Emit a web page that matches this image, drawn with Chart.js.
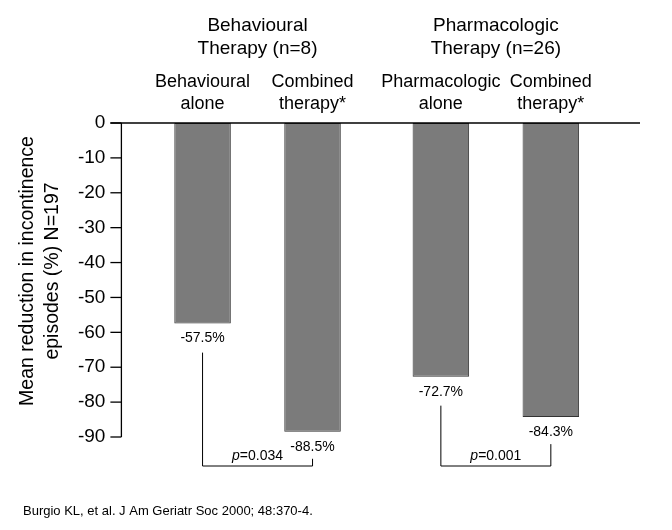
<!DOCTYPE html>
<html>
<head>
<meta charset="utf-8">
<script src="https://cdn.jsdelivr.net/npm/chart.js@4"></script>
<style>
  html, body { margin: 0; padding: 0; background: #fff; }
  #wrap { width: 672px; height: 530px; position: relative; }
</style>
</head>
<body>
<div id="wrap"><canvas id="grafico"></canvas></div>
<script>
// Datos del gráfico
var grupos = [['Behavioural', 'Therapy (n=8)'], ['Pharmacologic', 'Therapy (n=26)']];
var soloValores = [-57.5, -72.7];
var combinadoValores = [-88.5, -84.3];
var etiquetasBarras = [
  [['Behavioural', 'alone'], ['Pharmacologic', 'alone']],
  [['Combined', 'therapy*'], ['Combined', 'therapy*']]
];
var valoresP = ['0.034', '0.001'];
var ticksY = [0, -10, -20, -30, -40, -50, -60, -70, -80, -90];
var tituloY = ['Mean reduction in incontinence', 'episodes (%) N=197'];
var fuente = 'Burgio KL, et al. J Am Geriatr Soc 2000; 48:370-4.';

var FAMILIA = '"Liberation Sans", Arial, Helvetica, sans-serif';

// Plugin para ejes, etiquetas y corchetes
var extras = {
  id: 'extras',
  afterDraw: function(chart) {
    var ctx = chart.ctx;
    var area = chart.chartArea;
    var y = chart.scales.y;
    var ejeX = area.left - 17;
    var y0 = y.getPixelForValue(0);
    var y90 = y.getPixelForValue(-90);

    ctx.save();
    ctx.strokeStyle = '#000';
    ctx.lineWidth = 1.3;
    // eje vertical
    ctx.beginPath();
    ctx.moveTo(ejeX, y0);
    ctx.lineTo(ejeX, y90);
    ctx.stroke();
    // marcas
    ticksY.forEach(function(t) {
      var py = y.getPixelForValue(t);
      ctx.beginPath();
      ctx.moveTo(ejeX - 11, py);
      ctx.lineTo(ejeX, py);
      ctx.stroke();
    });
    // línea de cero
    ctx.beginPath();
    ctx.moveTo(ejeX - 11, y0);
    ctx.lineTo(area.right + 25, y0);
    ctx.stroke();

    // título del eje Y
    ctx.fillStyle = '#000';
    ctx.font = '19.5px ' + FAMILIA;
    ctx.textAlign = 'center';
    ctx.textBaseline = 'middle';
    ctx.save();
    ctx.translate(28, 271);
    ctx.rotate(-Math.PI / 2);
    ctx.fillText(tituloY[0], 0, 0);
    ctx.fillText(tituloY[1], 0, 25);
    ctx.restore();

    var metaSolo = chart.getDatasetMeta(0);
    var metaComb = chart.getDatasetMeta(1);

    // etiquetas de cada barra (arriba)
    ctx.font = '18px ' + FAMILIA;
    [metaSolo, metaComb].forEach(function(meta, d) {
      meta.data.forEach(function(el, i) {
        var lineas = etiquetasBarras[d][i];
        ctx.fillText(lineas[0], el.x, 82);
        ctx.fillText(lineas[1], el.x, 104);
      });
    });

    // valores debajo de las barras
    ctx.font = '14px ' + FAMILIA;
    [metaSolo, metaComb].forEach(function(meta) {
      var datos = chart.data.datasets[meta.index].data;
      meta.data.forEach(function(el, i) {
        ctx.fillText(datos[i].toFixed(1) + '%', el.x, el.y + 15);
      });
    });

    // corchetes con valor p
    ctx.lineWidth = 1;
    var yh = y90 + 29;
    metaSolo.data.forEach(function(el, i) {
      var er = metaComb.data[i];
      ctx.beginPath();
      ctx.moveTo(el.x, el.y + 29);
      ctx.lineTo(el.x, yh);
      ctx.lineTo(er.x, yh);
      ctx.lineTo(er.x, Math.min(er.y + 27, yh - 6));
      ctx.stroke();

      var cx = (el.x + er.x) / 2;
      ctx.font = 'italic 14px ' + FAMILIA;
      var w1 = ctx.measureText('p').width;
      ctx.font = '14px ' + FAMILIA;
      var w2 = ctx.measureText('=' + valoresP[i]).width;
      var x0 = cx - (w1 + w2) / 2;
      ctx.textAlign = 'left';
      ctx.font = 'italic 14px ' + FAMILIA;
      ctx.fillText('p', x0, yh - 10);
      ctx.font = '14px ' + FAMILIA;
      ctx.fillText('=' + valoresP[i], x0 + w1, yh - 10);
      ctx.textAlign = 'center';
    });

    // referencia
    ctx.font = '13px ' + FAMILIA;
    ctx.textAlign = 'left';
    ctx.fillText(fuente, 23, 511);
    ctx.restore();
  }
};

var ctxGrafico = document.getElementById('grafico').getContext('2d');
var grafico = new Chart(ctxGrafico, {
  type: 'bar',
  data: {
    labels: grupos,
    datasets: [{
      label: 'Alone',
      data: soloValores,
      backgroundColor: '#7b7b7b',
      borderColor: '#333333',
      borderWidth: 1,
      borderSkipped: false
    }, {
      label: 'Combined therapy',
      data: combinadoValores,
      backgroundColor: '#7b7b7b',
      borderColor: '#333333',
      borderWidth: 1,
      borderSkipped: false
    }]
  },
  options: {
    responsive: true,
    maintainAspectRatio: false,
    animation: false,
    categoryPercentage: 0.923,
    barPercentage: 0.514,
    layout: { padding: { top: 0, right: 57, bottom: 93, left: 0 } },
    plugins: { legend: { display: false }, tooltip: { enabled: false } },
    scales: {
      x: {
        position: 'top',
        grid: { display: false, drawTicks: false },
        border: { display: false },
        ticks: {
          color: '#000',
          font: { family: FAMILIA, size: 19 },
          padding: 63,
          maxRotation: 0
        },
        afterFit: function(s) { s.height = 123; }
      },
      y: {
        min: -90,
        max: 0,
        grid: { display: false, drawTicks: false },
        border: { display: false },
        ticks: {
          stepSize: 10,
          color: '#000',
          font: { family: FAMILIA, size: 19 },
          padding: 33
        },
        afterFit: function(s) { s.width = 138.4; }
      }
    }
  },
  plugins: [extras]
});
</script>
</body>
</html>
